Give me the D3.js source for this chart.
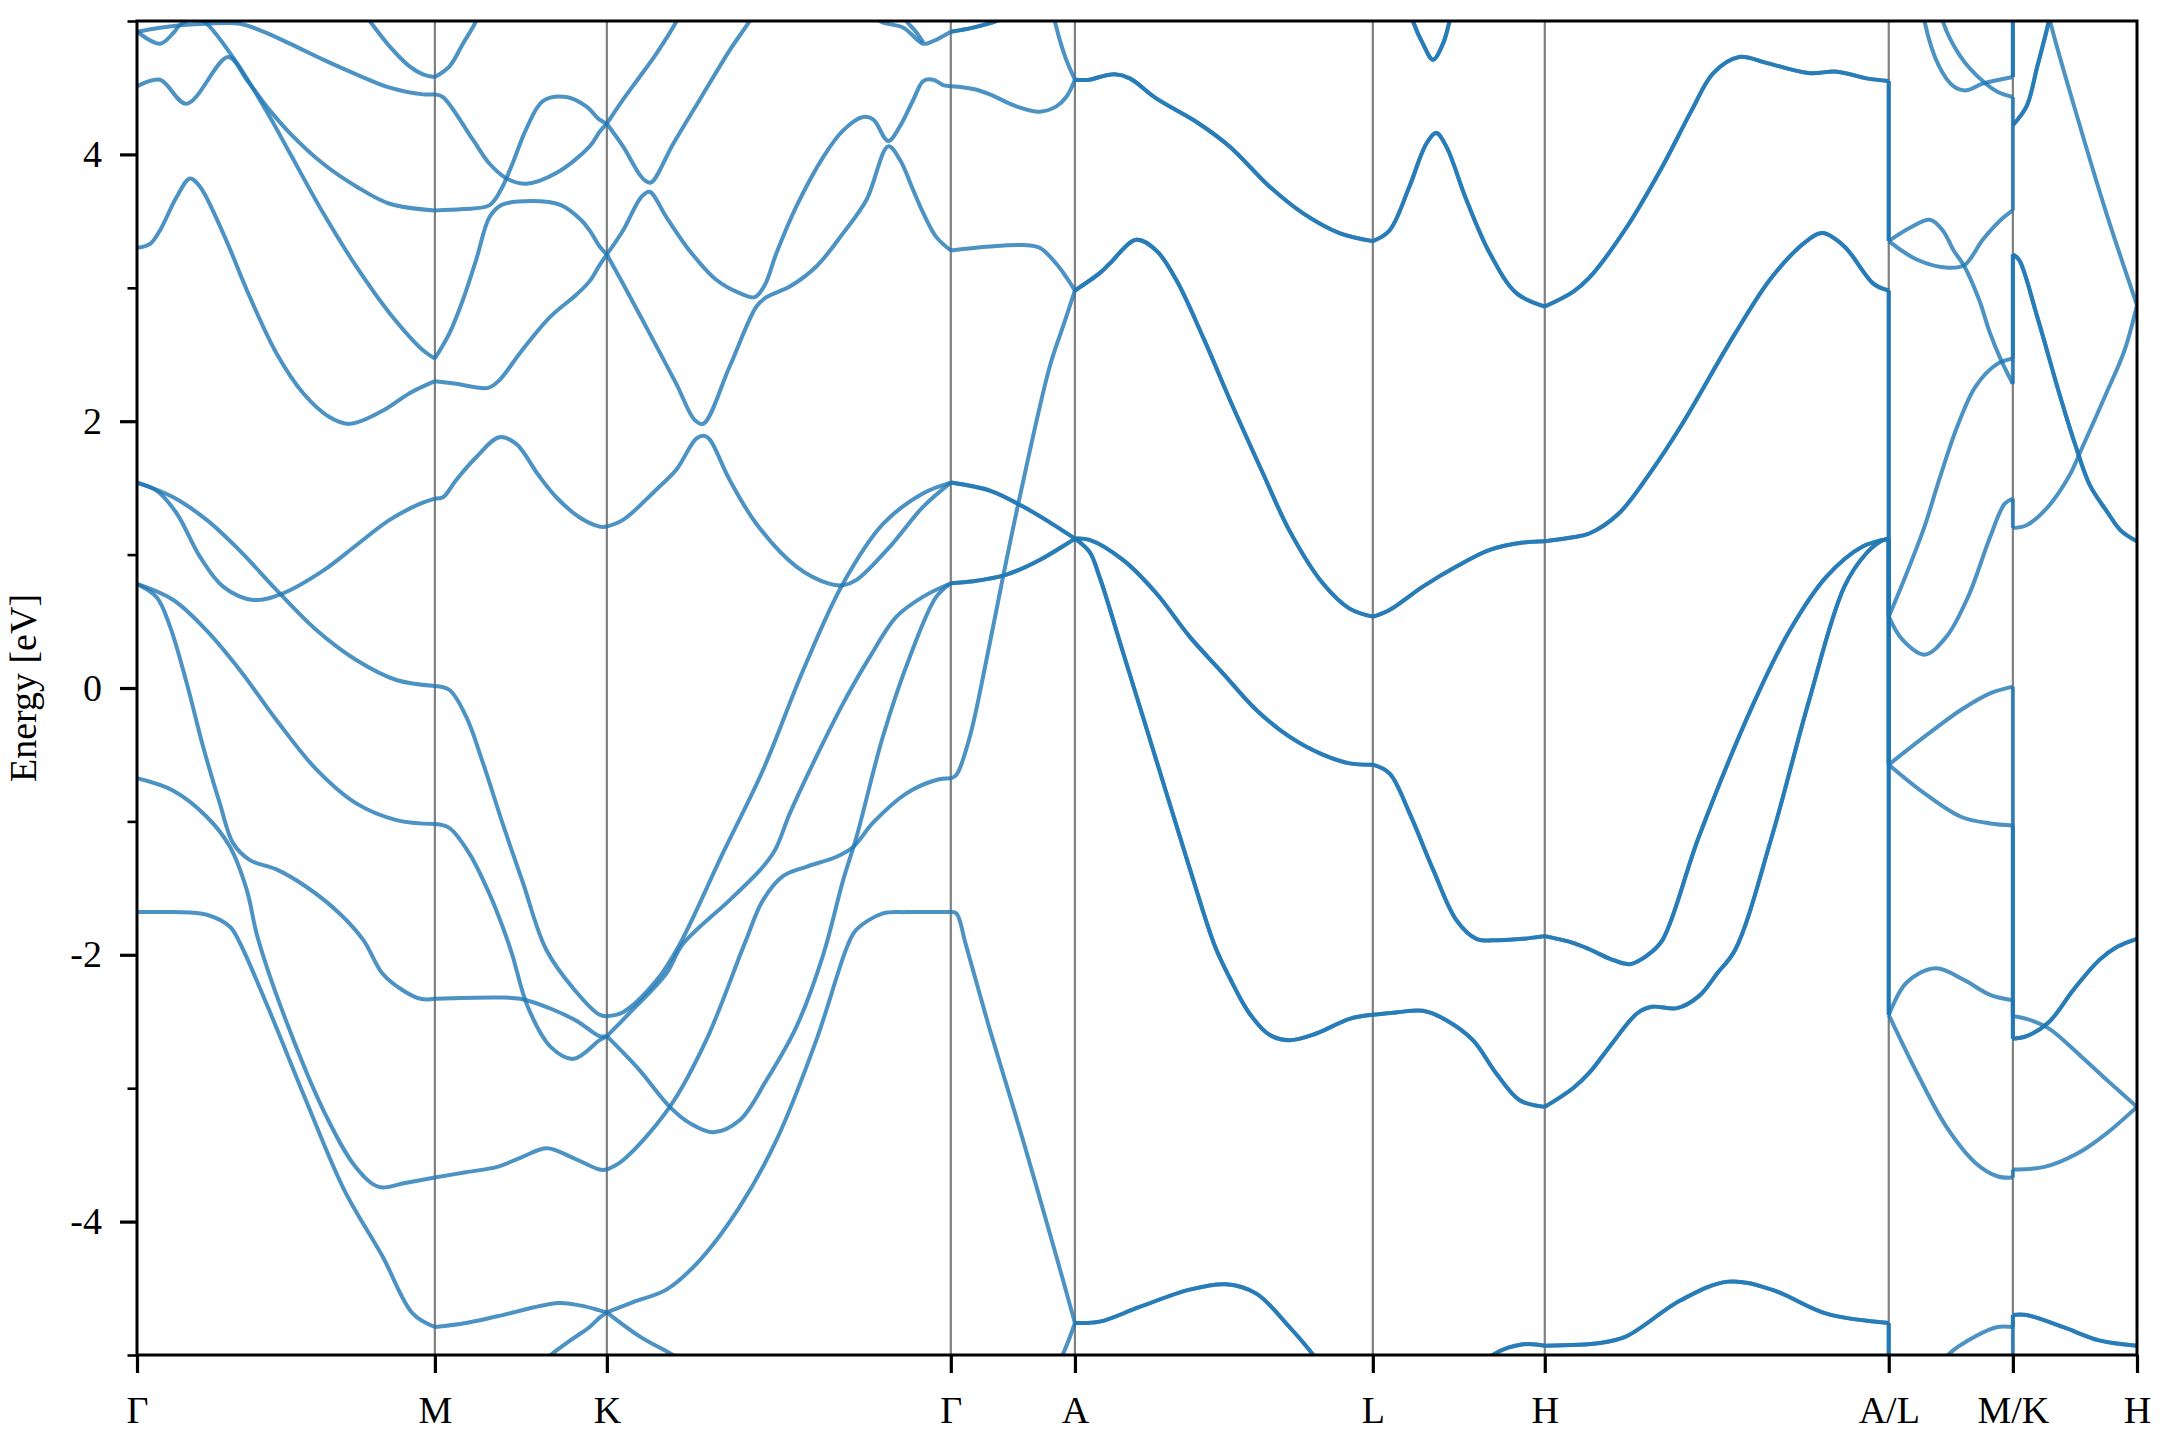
<!DOCTYPE html>
<html><head><meta charset="utf-8">
<script src="https://cdn.jsdelivr.net/npm/d3@7"></script>
<style>html,body{margin:0;padding:0;background:#fff;} svg{display:block;}</style>
</head><body>
<svg id="chart" width="2160" height="1440"></svg>
<script>
// ---------- data ----------
const kLabels = ["Γ","M","K","Γ","A","L","H","A/L","M/K","H"];
const kTicks  = [0, 0.5774, 0.9107, 1.5774, 1.8180, 2.3954, 2.7287, 3.3954, 3.6360, 3.8766];
const energyTicks = [-4, -2, 0, 2, 4];
const energyMinorTicks = [-5, -3, -1, 1, 3, 5];

// each band: d = degeneracy (times drawn), p = [fraction along segment, energy eV]
const bandsGM = [
 {d:1,p:[[0,4.92],[0.077,4.95],[0.155,4.97],[0.234,4.98],[0.345,4.98],[0.424,4.92],[0.513,4.83],[0.625,4.71],[0.736,4.60],[0.848,4.50],[0.96,4.45],[1,4.45]]},
 {d:1,p:[[0,4.92],[0.077,4.83],[0.122,4.91],[0.144,4.97],[0.2,5.02],[0.234,4.98],[0.334,4.69],[0.446,4.28],[0.513,4.01],[0.625,3.56],[0.736,3.16],[0.848,2.81],[0.961,2.53],[1,2.47]]},
 {d:1,p:[[0,4.51],[0.077,4.56],[0.166,4.38],[0.306,4.73],[0.368,4.56],[0.446,4.33],[0.513,4.16],[0.625,3.93],[0.736,3.76],[0.848,3.63],[1,3.58]]},
 {d:1,p:[[0.74,5.12],[0.781,5.0],[0.848,4.81],[0.915,4.66],[0.96,4.60],[1,4.58]]},
 {d:1,p:[[0,3.30],[0.044,3.33],[0.077,3.43],[0.133,3.68],[0.178,3.82],[0.211,3.76],[0.289,3.41],[0.379,2.93],[0.468,2.51],[0.558,2.21],[0.647,2.03],[0.714,1.98],[0.826,2.08],[0.915,2.21],[1,2.30]]},
 {d:1,p:[[0,1.54],[0.066,1.48],[0.133,1.31],[0.211,0.985],[0.289,0.76],[0.39,0.66],[0.49,0.71],[0.625,0.88],[0.736,1.07],[0.848,1.26],[0.949,1.38],[1,1.42]]},
 {d:1,p:[[0,1.54],[0.122,1.43],[0.234,1.26],[0.345,1.03],[0.468,0.735],[0.602,0.435],[0.736,0.21],[0.871,0.06],[1,0.015]]},
 {d:1,p:[[0,0.78],[0.066,0.68],[0.111,0.46],[0.167,0.035],[0.222,-0.44],[0.278,-0.865],[0.323,-1.165],[0.379,-1.29],[0.468,-1.36],[0.568,-1.49],[0.68,-1.69],[0.76,-1.89],[0.824,-2.14],[0.888,-2.26],[0.952,-2.33],[1,-2.33]]},
 {d:1,p:[[0,0.78],[0.122,0.66],[0.234,0.43],[0.345,0.135],[0.468,-0.24],[0.602,-0.61],[0.736,-0.865],[0.871,-0.99],[1,-1.02]]},
 {d:1,p:[[0,-0.677],[0.122,-0.77],[0.234,-0.965],[0.312,-1.19],[0.368,-1.51],[0.405,-1.87],[0.503,-2.51],[0.631,-3.19],[0.734,-3.59],[0.812,-3.74],[0.90,-3.71],[1,-3.67]]},
 {d:1,p:[[0,-1.68],[0.122,-1.68],[0.234,-1.70],[0.312,-1.79],[0.345,-1.91],[0.439,-2.39],[0.567,-3.09],[0.695,-3.76],[0.824,-4.26],[0.926,-4.69],[1,-4.79]]}
];
const bandsMK = [
 {d:1,p:[[0,4.58],[0.085,4.66],[0.163,4.83],[0.24,5.0],[0.28,5.15]]},
 {d:1,p:[[0,4.45],[0.047,4.43],[0.221,4.11],[0.318,3.93],[0.417,3.82],[0.531,3.78],[0.706,3.86],[0.9,4.06],[0.958,4.17],[1,4.23]]},
 {d:1,p:[[0,3.58],[0.163,3.59],[0.318,3.62],[0.386,3.74],[0.454,3.94],[0.531,4.19],[0.628,4.40],[0.764,4.43],[0.88,4.36],[0.958,4.26],[1,4.23]]},
 {d:1,p:[[0,2.47],[0.085,2.66],[0.163,2.91],[0.24,3.21],[0.318,3.53],[0.386,3.62],[0.559,3.65],[0.733,3.62],[0.849,3.51],[0.9,3.43],[0.958,3.31],[1,3.25]]},
 {d:1,p:[[0,2.30],[0.124,2.28],[0.309,2.25],[0.377,2.31],[0.494,2.51],[0.669,2.78],[0.824,2.95],[0.9,3.05],[0.958,3.17],[1,3.25]]},
 {d:1,p:[[0,1.42],[0.047,1.43],[0.124,1.56],[0.24,1.73],[0.375,1.88],[0.473,1.83],[0.6,1.60],[0.706,1.43],[0.84,1.28],[0.958,1.21],[1,1.21]]},
 {d:1,p:[[0,0.015],[0.085,-0.015],[0.182,-0.215],[0.279,-0.56],[0.395,-1.02],[0.512,-1.46],[0.647,-1.96],[0.81,-2.26],[0.958,-2.45],[1,-2.46]]},
 {d:1,p:[[0,-1.02],[0.085,-1.05],[0.2,-1.24],[0.316,-1.54],[0.394,-1.79],[0.45,-2.0],[0.54,-2.39],[0.673,-2.69],[0.807,-2.78],[0.958,-2.64],[1,-2.61]]},
 {d:1,p:[[0,-2.33],[0.362,-2.32],[0.496,-2.33],[0.685,-2.41],[0.83,-2.50],[0.958,-2.61],[1,-2.61]]},
 {d:1,p:[[0,-3.67],[0.18,-3.63],[0.363,-3.59],[0.5,-3.52],[0.651,-3.45],[0.8,-3.52],[0.958,-3.61],[1,-3.61]]},
 {d:1,p:[[0,-4.79],[0.18,-4.76],[0.363,-4.71],[0.717,-4.61],[0.85,-4.63],[0.958,-4.665],[1,-4.68]]},
 {d:1,p:[[0.55,-5.15],[0.674,-5.0],[0.8,-4.88],[0.9,-4.79],[0.958,-4.72],[1,-4.68]]}
];
const bandsKG = [
 {d:1,p:[[0,4.23],[0.047,4.41],[0.095,4.58],[0.145,4.76],[0.203,5.0],[0.23,5.15]]},
 {d:1,p:[[0,4.23],[0.047,4.06],[0.095,3.85],[0.113,3.80],[0.129,3.79],[0.193,4.08],[0.27,4.41],[0.357,4.78],[0.415,5.0],[0.44,5.12]]},
 {d:1,p:[[0,3.25],[0.047,3.43],[0.1,3.68],[0.124,3.72],[0.173,3.53],[0.24,3.28],[0.318,3.06],[0.386,2.96],[0.43,2.93],[0.459,3.02],[0.493,3.26],[0.551,3.61],[0.629,3.98],[0.687,4.18],[0.745,4.28],[0.775,4.26],[0.818,4.10],[0.852,4.21],[0.891,4.41],[0.92,4.55],[0.949,4.56],[0.978,4.52],[1,4.51]]},
 {d:1,p:[[0,3.25],[0.047,3.03],[0.124,2.66],[0.202,2.28],[0.255,2.01],[0.28,1.98],[0.357,2.41],[0.435,2.86],[0.464,2.93],[0.532,3.01],[0.609,3.16],[0.687,3.41],[0.755,3.66],[0.818,4.06],[0.852,3.96],[0.891,3.73],[0.92,3.56],[0.958,3.38],[1,3.28]]},
 {d:1,p:[[0,1.21],[0.047,1.26],[0.145,1.49],[0.203,1.64],[0.26,1.87],[0.284,1.89],[0.30,1.86],[0.357,1.56],[0.435,1.23],[0.551,0.91],[0.648,0.78],[0.687,0.77],[0.726,0.81],[0.823,1.06],[0.92,1.36],[1,1.54]]},
 {d:1,p:[[0,-2.46],[0.047,-2.43],[0.145,-2.19],[0.21,-1.93],[0.337,-1.24],[0.454,-0.615],[0.571,0.135],[0.687,0.785],[0.803,1.23],[0.92,1.46],[1,1.54]]},
 {d:1,p:[[0,-2.61],[0.076,-2.41],[0.173,-2.14],[0.221,-1.92],[0.357,-1.59],[0.454,-1.34],[0.49,-1.21],[0.532,-0.94],[0.609,-0.515],[0.687,-0.115],[0.765,0.235],[0.842,0.535],[0.92,0.685],[1,0.785]]},
 {d:1,p:[[0,-3.61],[0.047,-3.54],[0.183,-3.14],[0.289,-2.64],[0.40,-1.92],[0.454,-1.59],[0.512,-1.41],[0.58,-1.34],[0.668,-1.265],[0.717,-1.19],[0.774,-1.01],[0.871,-0.79],[0.958,-0.69],[1,-0.677]]},
 {d:1,p:[[0,-2.61],[0.09,-2.85],[0.183,-3.14],[0.24,-3.26],[0.309,-3.33],[0.386,-3.24],[0.464,-2.94],[0.551,-2.54],[0.629,-2.0],[0.687,-1.44],[0.726,-1.115],[0.803,-0.36],[0.881,0.235],[0.958,0.685],[1,0.785]]},
 {d:1,p:[[0,-4.68],[0.08,-4.60],[0.173,-4.51],[0.27,-4.29],[0.386,-3.89],[0.493,-3.39],[0.609,-2.64],[0.70,-1.93],[0.726,-1.81],[0.803,-1.69],[0.871,-1.68],[1,-1.68]]},
 {d:1,p:[[0,-4.68],[0.095,-4.86],[0.192,-5.0],[0.25,-5.1]]},
 {d:1,p:[[0.74,5.15],[0.794,5.0],[0.862,4.95],[0.92,4.83],[0.949,4.85],[1,4.92]]},
 {d:1,p:[[0.85,5.12],[0.871,5.0],[0.895,4.93],[0.92,4.84]]}
];
const bandsGA = [
 {d:2,p:[[0,4.92],[0.18,4.95],[0.37,5.0],[0.6,5.1]]},
 {d:1,p:[[0.79,5.15],[0.837,5.0],[0.877,4.86],[0.93,4.71],[1,4.56]]},
 {d:1,p:[[0,4.51],[0.18,4.49],[0.314,4.45],[0.528,4.36],[0.716,4.32],[0.85,4.36],[0.93,4.43],[1,4.56]]},
 {d:1,p:[[0,3.28],[0.314,3.31],[0.582,3.32],[0.716,3.30],[0.85,3.18],[0.93,3.08],[1,2.98]]},
 {d:2,p:[[0,1.54],[0.314,1.48],[0.582,1.36],[0.8,1.24],[1,1.12]]},
 {d:2,p:[[0,0.785],[0.18,0.80],[0.448,0.85],[0.716,0.96],[1,1.12]]},
 {d:1,p:[[0,-0.677],[0.046,-0.65],[0.153,-0.365],[0.287,0.21],[0.421,0.835],[0.555,1.43],[0.797,2.41],[0.904,2.71],[1,2.98]]},
 {d:1,p:[[0,-1.68],[0.046,-1.69],[0.12,-1.92],[0.314,-2.56],[0.582,-3.39],[0.85,-4.26],[1,-4.76]]},
 {d:1,p:[[0.78,-5.2],[0.9,-5.0],[1,-4.76]]}
];
const bandsAL = [
 {d:2,p:[[0,4.56],[0.049,4.56],[0.083,4.58],[0.133,4.60],[0.184,4.57],[0.273,4.42],[0.407,4.245],[0.519,4.06],[0.653,3.76],[0.765,3.56],[0.888,3.41],[1,3.35]]},
 {d:2,p:[[0,2.98],[0.083,3.11],[0.116,3.18],[0.206,3.36],[0.273,3.28],[0.34,3.06],[0.43,2.63],[0.53,2.11],[0.631,1.61],[0.72,1.18],[0.832,0.785],[0.922,0.595],[1,0.535]]},
 {d:2,p:[[0,1.12],[0.049,1.11],[0.161,0.96],[0.273,0.71],[0.385,0.385],[0.497,0.11],[0.609,-0.165],[0.72,-0.365],[0.832,-0.50],[0.922,-0.565],[1,-0.575]]},
 {d:2,p:[[0,1.12],[0.049,1.02],[0.083,0.83],[0.161,0.27],[0.273,-0.54],[0.385,-1.35],[0.469,-1.93],[0.519,-2.17],[0.586,-2.44],[0.653,-2.60],[0.72,-2.64],[0.81,-2.59],[0.922,-2.48],[1,-2.45]]},
 {d:2,p:[[0,-4.76],[0.083,-4.75],[0.217,-4.64],[0.385,-4.51],[0.508,-4.47],[0.609,-4.54],[0.72,-4.79],[0.8,-5.0],[0.86,-5.2]]}
];
const bandsLH = [
 {d:2,p:[[0.2,5.15],[0.233,5.0],[0.291,4.83],[0.35,4.71],[0.408,4.83],[0.447,5.0],[0.48,5.15]]},
 {d:2,p:[[0,3.35],[0.097,3.43],[0.213,3.76],[0.311,4.08],[0.369,4.16],[0.427,4.06],[0.544,3.66],[0.68,3.26],[0.835,2.96],[1,2.86]]},
 {d:2,p:[[0,0.535],[0.097,0.585],[0.291,0.76],[0.486,0.91],[0.68,1.035],[0.874,1.09],[1,1.10]]},
 {d:2,p:[[0,-0.575],[0.097,-0.64],[0.214,-0.94],[0.35,-1.36],[0.486,-1.74],[0.602,-1.88],[0.738,-1.89],[0.874,-1.88],[1,-1.86]]},
 {d:2,p:[[0,-2.45],[0.146,-2.43],[0.291,-2.42],[0.427,-2.49],[0.582,-2.64],[0.718,-2.89],[0.854,-3.09],[1,-3.14]]},
 {d:2,p:[[0.6,-5.15],[0.699,-5.0],[0.874,-4.92],[1,-4.93]]}
];
const bandsHA = [
 {d:2,p:[[0,2.86],[0.082,2.97],[0.131,3.08],[0.237,3.45],[0.342,3.91],[0.427,4.33],[0.49,4.61],[0.565,4.73],[0.639,4.69],[0.766,4.61],[0.85,4.62],[0.935,4.57],[1,4.55]]},
 {d:2,p:[[0,1.10],[0.082,1.13],[0.131,1.16],[0.216,1.31],[0.311,1.63],[0.395,1.96],[0.554,2.66],[0.66,3.08],[0.766,3.36],[0.808,3.41],[0.871,3.31],[0.956,3.03],[1,2.98]]},
 {d:2,p:[[0,-1.86],[0.082,-1.91],[0.131,-1.96],[0.19,-2.03],[0.247,-2.07],[0.30,-2.0],[0.342,-1.89],[0.448,-1.115],[0.607,-0.115],[0.713,0.435],[0.819,0.835],[0.924,1.06],[1,1.12]]},
 {d:2,p:[[0,-3.14],[0.082,-3.0],[0.131,-2.88],[0.194,-2.67],[0.268,-2.44],[0.311,-2.39],[0.385,-2.40],[0.448,-2.31],[0.501,-2.14],[0.554,-1.96],[0.66,-1.115],[0.766,-0.115],[0.871,0.76],[0.935,1.01],[0.977,1.10],[1,1.12]]},
 {d:2,p:[[0,-4.93],[0.16,-4.91],[0.237,-4.86],[0.395,-4.59],[0.533,-4.45],[0.66,-4.51],[0.819,-4.69],[1,-4.76]]}
];
const bandsLM = [
 {d:1,p:[[0,3.35],[0.171,3.45],[0.332,3.51],[0.435,3.43],[0.523,3.28],[0.61,3.16],[0.728,2.91],[0.816,2.66],[0.904,2.46],[1,2.28]]},
 {d:1,p:[[0,3.35],[0.23,3.21],[0.479,3.15],[0.61,3.17],[0.757,3.36],[0.904,3.51],[1,3.58]]},
 {d:1,p:[[0.27,5.15],[0.288,5.0],[0.406,4.66],[0.523,4.51],[0.626,4.48],[0.757,4.53],[1,4.58]]},
 {d:1,p:[[0.41,5.15],[0.435,5.0],[0.581,4.73],[0.757,4.55],[0.875,4.47],[1,4.43]]},
 {d:1,p:[[0,0.535],[0.112,0.785],[0.288,1.21],[0.406,1.56],[0.552,1.96],[0.699,2.26],[0.875,2.43],[1,2.47]]},
 {d:1,p:[[0,0.535],[0.112,0.36],[0.288,0.25],[0.465,0.385],[0.64,0.685],[0.816,1.13],[0.933,1.38],[1,1.42]]},
 {d:1,p:[[0,-0.575],[0.288,-0.365],[0.581,-0.165],[0.816,-0.04],[1,0.01]]},
 {d:1,p:[[0,-0.575],[0.288,-0.79],[0.581,-0.965],[0.816,-1.015],[1,-1.03]]},
 {d:1,p:[[0,-2.45],[0.142,-2.21],[0.377,-2.10],[0.61,-2.19],[0.816,-2.30],[1,-2.34]]},
 {d:1,p:[[0,-2.45],[0.23,-2.89],[0.465,-3.29],[0.699,-3.56],[0.875,-3.66],[1,-3.67]]},
 {d:1,p:[[0.4,-5.15],[0.479,-5.0],[0.699,-4.86],[0.875,-4.79],[1,-4.79]]}
];
const bandsKH = [
 {d:2,p:[[0,4.22],[0.11,4.36],[0.197,4.66],[0.29,5.0],[0.32,5.15]]},
 {d:1,p:[[0.27,5.15],[0.3,5.0],[0.519,4.28],[0.753,3.56],[1,2.87]]},
 {d:2,p:[[0,3.25],[0.05,3.21],[0.197,2.78],[0.373,2.21],[0.5,1.83],[0.62,1.52],[0.753,1.33],[0.87,1.18],[1,1.10]]},
 {d:1,p:[[0,1.20],[0.11,1.22],[0.285,1.36],[0.46,1.60],[0.548,1.78],[0.753,2.21],[0.899,2.53],[1,2.87]]},
 {d:2,p:[[0,-2.63],[0.11,-2.61],[0.285,-2.51],[0.49,-2.26],[0.695,-2.04],[0.841,-1.94],[1,-1.88]]},
 {d:1,p:[[0,-2.46],[0.11,-2.48],[0.285,-2.55],[0.548,-2.76],[0.783,-2.96],[1,-3.14]]},
 {d:1,p:[[0,-3.61],[0.255,-3.59],[0.519,-3.49],[0.753,-3.34],[1,-3.14]]},
 {d:2,p:[[0,-4.70],[0.11,-4.70],[0.402,-4.79],[0.695,-4.89],[1,-4.93]]}
];
// discontinuities: [energy before jump, energy after jump, degeneracy]
const jumpsAL = [[4.55,3.35,2],[2.98,0.535,2],[1.12,-0.575,2],[1.12,-2.45,2],[-4.76,-5.6,2]];
const jumpsMK = [[-5.6,-4.70,1],[-4.79,-4.70,1],[-3.67,-3.61,1],[-2.34,-2.63,1],[-1.03,-2.63,1],[0.01,-2.46,1],[1.42,1.20,1],[2.28,3.25,1],[2.47,3.25,1],[3.58,4.22,1],[4.43,4.22,1],[4.58,5.6,2]];

const segments = [
 {a:0,b:1,bands:bandsGM},{a:1,b:2,bands:bandsMK},{a:2,b:3,bands:bandsKG},
 {a:3,b:4,bands:bandsGA},{a:4,b:5,bands:bandsAL},{a:5,b:6,bands:bandsLH},
 {a:6,b:7,bands:bandsHA},{a:7,b:8,bands:bandsLM},{a:8,b:9,bands:bandsKH}
];
const jumps = [{at:7,list:jumpsAL},{at:8,list:jumpsMK}];

// ---------- drawing ----------
const W = 2160, H = 1440;
const L = 137, R = 2137, T = 21, B = 1355;
const FONT = "'Liberation Serif','Times New Roman',Times,serif";
const BLUE = "#1f77b4";
const LW = 4.0;

const svg = d3.select("#chart");
svg.append("rect").attr("width",W).attr("height",H).attr("fill","#fff");

const x = d3.scaleLinear().domain([kTicks[0], kTicks[kTicks.length-1]]).range([L, R]);
const y = d3.scaleLinear().domain([-5, 5]).range([B, T]);

svg.append("defs").append("clipPath").attr("id","plotclip")
  .append("rect").attr("x",L).attr("y",T).attr("width",R-L).attr("height",B-T);

const plot = svg.append("g").attr("clip-path","url(#plotclip)");

// high-symmetry vertical lines
plot.selectAll("line.hs").data(kTicks.slice(1, -1)).join("line")
  .attr("class","hs")
  .attr("x1",d=>x(d)).attr("x2",d=>x(d))
  .attr("y1",T).attr("y2",B)
  .attr("stroke","#808080").attr("stroke-width",2.2);

const line = d3.line()
  .x(p=>x(p[0])).y(p=>y(p[1]))
  .curve(d3.curveCatmullRom.alpha(0.5));

const bandG = plot.append("g");
segments.forEach(seg => {
  const k0 = kTicks[seg.a], k1 = kTicks[seg.b];
  seg.bands.forEach(band => {
    const pts = band.p.map(([t,e]) => [k0 + t*(k1-k0), e]);
    for (let i = 0; i < band.d; i++) {
      bandG.append("path")
        .attr("d", line(pts))
        .attr("fill","none")
        .attr("stroke",BLUE)
        .attr("stroke-opacity",0.8)
        .attr("stroke-width",LW)
        .attr("stroke-linejoin","round")
        .attr("stroke-linecap","butt");
    }
  });
});

jumps.forEach(j => {
  const kx = kTicks[j.at];
  j.list.forEach(([e0,e1,deg]) => {
    for (let i = 0; i < deg; i++) {
      bandG.append("line")
        .attr("x1",x(kx)).attr("x2",x(kx))
        .attr("y1",y(e0)).attr("y2",y(e1))
        .attr("stroke",BLUE).attr("stroke-opacity",0.8)
        .attr("stroke-width",LW);
    }
  });
});

// frame
svg.append("rect").attr("x",L).attr("y",T).attr("width",R-L).attr("height",B-T)
  .attr("fill","none").attr("stroke","#000").attr("stroke-width",3);

// y axis (major)
const yAxisG = svg.append("g").attr("transform",`translate(${L},0)`)
  .call(d3.axisLeft(y).tickValues(energyTicks).tickSize(17).tickPadding(18).tickFormat(d=>String(d)));
yAxisG.select(".domain").remove();
yAxisG.attr("font-family",FONT).attr("font-size",38);
yAxisG.selectAll(".tick line").attr("stroke","#000").attr("stroke-width",3.2);
yAxisG.selectAll(".tick text").attr("fill","#000");

// y axis (minor)
const yMinorG = svg.append("g").attr("transform",`translate(${L},0)`)
  .call(d3.axisLeft(y).tickValues(energyMinorTicks).tickSize(9.5).tickFormat(""));
yMinorG.select(".domain").remove();
yMinorG.selectAll(".tick line").attr("stroke","#000").attr("stroke-width",2.6);

// x axis
const xAxisG = svg.append("g").attr("transform",`translate(0,${B})`)
  .call(d3.axisBottom(x).tickValues(kTicks).tickSize(18).tickPadding(23).tickFormat((d,i)=>kLabels[i]));
xAxisG.select(".domain").remove();
xAxisG.attr("font-family",FONT).attr("font-size",38);
xAxisG.selectAll(".tick line").attr("stroke","#000").attr("stroke-width",3.2);
xAxisG.selectAll(".tick text").attr("fill","#000");

// y label
svg.append("text")
  .attr("transform",`translate(36,${y(0)}) rotate(-90)`)
  .attr("text-anchor","middle")
  .attr("font-family",FONT).attr("font-size",38).attr("fill","#000")
  .text("Energy [eV]");
</script>
</body></html>
